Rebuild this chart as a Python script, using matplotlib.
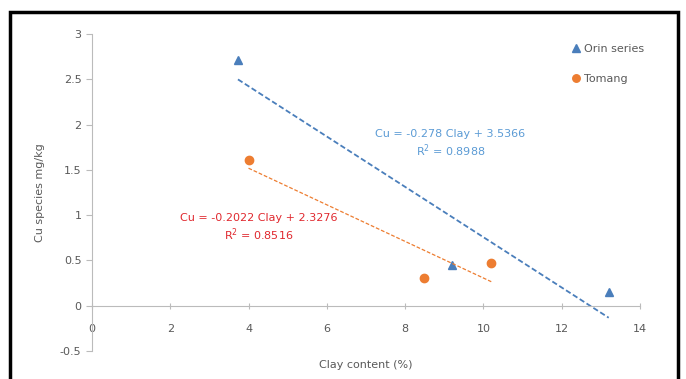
import matplotlib.pyplot as plt
from matplotlib.patches import Rectangle
import numpy as np

# data
orin_x = [3.73, 9.2, 13.2]
orin_y = [2.71, 0.45, 0.15]
tomang_x = [4.0, 8.47, 10.2]
tomang_y = [1.61, 0.31, 0.47]

# trend line equations as printed on the chart
orin_fit = (-0.278, 3.5366)
tomang_fit = (-0.2022, 2.3276)

blue = '#4a7ebb'
blue_txt = '#5b9bd5'
orange = '#ed7d31'
red = '#e0282e'
grey = '#595959'

fig = plt.figure(figsize=(6.86, 3.79), dpi=100)
ax = fig.add_axes([0.134, 0.074, 0.799, 0.836])

ax.plot(orin_x, orin_y, linestyle='none', marker='^', color=blue, markersize=6, label='Orin series')
ax.plot(tomang_x, tomang_y, linestyle='none', marker='o', color=orange, markersize=6, label='Tomang')

xs = np.array([min(orin_x), max(orin_x)])
ax.plot(xs, orin_fit[0] * xs + orin_fit[1], color=blue, linestyle=(0, (3, 1.5)), linewidth=1.3)
xs = np.array([min(tomang_x), max(tomang_x)])
ax.plot(xs, tomang_fit[0] * xs + tomang_fit[1], color=orange, linestyle=(0, (3, 1.5)), linewidth=0.9)

ax.text(9.16, 1.79, 'Cu = -0.278 Clay + 3.5366\nR$^2$ = 0.8988', color=blue_txt, fontsize=8,
        ha='center', va='center', linespacing=1.25)
ax.text(4.25, 0.86, 'Cu = -0.2022 Clay + 2.3276\nR$^2$ = 0.8516', color=red, fontsize=8,
        ha='center', va='center', linespacing=1.25)

ax.set_xlim(0, 14)
ax.set_ylim(-0.5, 3)
ax.set_xticks(range(0, 15, 2))
ax.set_yticks([-0.5, 0, 0.5, 1, 1.5, 2, 2.5, 3])
ax.set_yticklabels(['-0.5', '0', '0.5', '1', '1.5', '2', '2.5', '3'])

ax.spines['top'].set_visible(False)
ax.spines['right'].set_visible(False)
ax.spines['bottom'].set_position(('data', 0))
for s in ['left', 'bottom']:
    ax.spines[s].set_color('#bbbbbb')
ax.tick_params(axis='both', colors='#bbbbbb', labelcolor=grey, labelsize=8, length=4)
ax.tick_params(axis='x', direction='inout', pad=11)

ax.set_xlabel('Clay content (%)', fontsize=8, color=grey, labelpad=4)
ax.xaxis.set_label_coords(0.5, -0.03)
ax.set_ylabel('Cu species mg/kg', fontsize=8, color=grey)
ax.yaxis.set_label_coords(-0.085, 0.5)

ax.legend(loc='upper left', bbox_to_anchor=(0.855, 1.0), frameon=False, fontsize=8,
          handletextpad=0.2, handlelength=1, labelspacing=1.75, labelcolor=grey, markerscale=0.9)

fig.patches.append(Rectangle((10 / 686, -0.05), 668 / 686, 1 - 12 / 379 + 0.05,
                             transform=fig.transFigure, fill=False, edgecolor='black', linewidth=2.5))

fig.savefig('out.png', dpi=100)
